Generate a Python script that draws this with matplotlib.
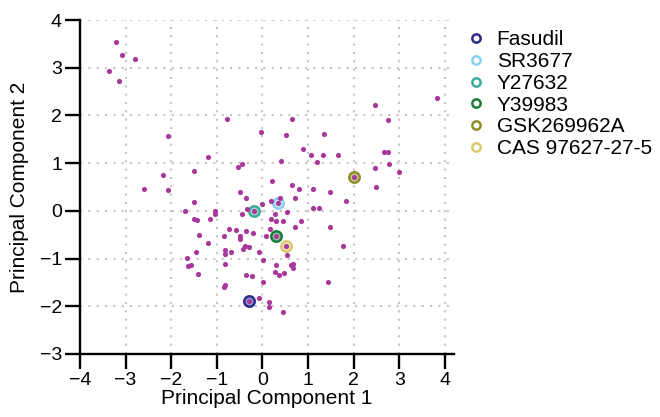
import matplotlib
matplotlib.use("Agg")
import matplotlib.pyplot as plt
from matplotlib.colors import to_rgba

plt.rcParams['font.family'] = ['Liberation Sans', 'DejaVu Sans']

# PCA scores (background compounds)
pc1 = [-3.21, -3.08, -2.80, -3.37, -3.14, -0.78, -2.06, -1.20, -0.54, -0.44,
       -1.49, -2.17, -0.04, 3.83, 2.47, 2.75, 0.64, 0.51, 1.34, 0.90,
       1.06, 1.33, 1.66, 1.19, 0.41, 2.66, 2.75, 2.77, 2.47, 2.99,
       2.00, 0.21, -2.60, -2.07, -0.49, -0.37, -1.50, -1.69, -1.05, -1.04,
       -0.44, -0.33, -0.19, -1.49, -1.43, -1.14, -0.73, -0.58, -0.37, -0.20,
       -0.85, -0.49, -0.49, -1.40, -1.19, -0.43, -0.38, -0.30, -0.83, -0.70,
       -0.83, -1.46, -0.07, -1.66, -0.81, -1.63, -1.57, -1.41, -0.36, -0.22,
       -0.81, -0.84, -0.30, -0.07, 2.50, 0.64, 0.81, 1.10, 1.49, 0.72,
       1.83, 0.19, 0.39, 0.35, -0.01, 1.11, 1.23, 0.54, 0.27, 0.19,
       0.29, 0.45, 0.84, 0.72, 1.49, 0.16, 0.08, 0.29, 1.77, 0.51,
       0.54, 0.02, 0.29, 0.62, 0.66, 0.68, 0.27, 0.37, 0.48, 0.02,
       1.44, 0.15, 0.14, 0.44]
pc2 = [3.53, 3.26, 3.19, 2.94, 2.72, 1.93, 1.57, 1.12, 0.91, 0.98,
       0.84, 0.76, 1.66, 2.37, 2.21, 1.90, 1.93, 1.59, 1.62, 1.30,
       1.18, 1.17, 1.17, 1.02, 1.04, 1.24, 1.23, 0.99, 0.89, 0.82,
       0.72, 0.62, 0.46, 0.43, 0.39, 0.27, 0.19, 0.00, -0.01, -0.07,
       -0.07, 0.04, 0.00, -0.18, -0.20, -0.17, -0.39, -0.41, -0.42, -0.47,
       -0.52, -0.53, -0.59, -0.51, -0.67, -0.80, -0.74, -0.76, -0.82, -0.87,
       -0.91, -0.86, -0.86, -0.98, -1.12, -1.15, -1.13, -1.32, -1.34, -1.36,
       -1.55, -1.60, -1.88, -1.82, 0.50, 0.55, 0.46, 0.46, 0.39, 0.26,
       0.21, 0.20, 0.27, 0.17, 0.15, 0.05, 0.07, -0.02, -0.07, -0.18,
       -0.21, -0.21, -0.21, -0.33, -0.33, -0.37, -0.53, -0.53, -0.74, -0.74,
       -0.93, -1.03, -1.14, -1.13, -1.11, -1.20, -1.29, -1.34, -1.30, -1.50,
       -1.50, -1.91, -2.01, -2.11]

# highlighted ROCK inhibitors
names = ['Fasudil', 'SR3677', 'Y27632', 'Y39983', 'GSK269962A', 'CAS 97627-27-5']
hl_pc1 = [-0.30, 0.35, -0.19, 0.29, 2.00, 0.51]
hl_pc2 = [-1.88, 0.17, 0.00, -0.53, 0.72, -0.74]
hl_colors = ['#2e2a8c', '#8dcff0', '#3aae9b', '#187d3a', '#8f8f27', '#dcc86f']

dot_color = '#a9389c'

fig = plt.figure(figsize=(6.6, 4.17), dpi=100)
ax = fig.add_axes([80 / 660, 1 - 354 / 417, 374 / 660, 334 / 417])

for name, x, y, c in zip(names, hl_pc1, hl_pc2, hl_colors):
    ax.plot(x, y, 'o', ms=7.5, mew=1.8, mec=c, mfc=to_rgba(c, 0.45),
            zorder=3, label=name)
ax.scatter(pc1, pc2, s=14, color=dot_color, lw=0, zorder=4)

ax.set_xlim(-4, 4.2)
ax.set_ylim(-3, 4)
ax.set_xticks(range(-4, 5))
ax.set_yticks(range(-3, 5))
ax.grid(True, ls=(0, (1, 3)), color='#c4c4c4', lw=1.5)
ax.set_axisbelow(True)

for s in ['top', 'right']:
    ax.spines[s].set_visible(False)
for s in ['left', 'bottom']:
    ax.spines[s].set_linewidth(1.7)
ax.tick_params(length=11, width=1.7, labelsize=14, pad=2)

ax.set_xlabel('Principal Component 1', fontsize=15, labelpad=0)
ax.set_ylabel('Principal Component 2', fontsize=15, labelpad=8)

leg_handles = [plt.Line2D([], [], ls='', marker='o', ms=6, mew=1.8, mec=c, mfc='white')
               for c in hl_colors]
ax.legend(leg_handles, names, loc='upper left', bbox_to_anchor=(457 / 660, 1 - 20 / 417),
          bbox_transform=fig.transFigure, frameon=False, fontsize=15,
          handlelength=0.8, handletextpad=0.6, labelspacing=0.13, borderpad=0)

fig.savefig('out.png', dpi=100)
